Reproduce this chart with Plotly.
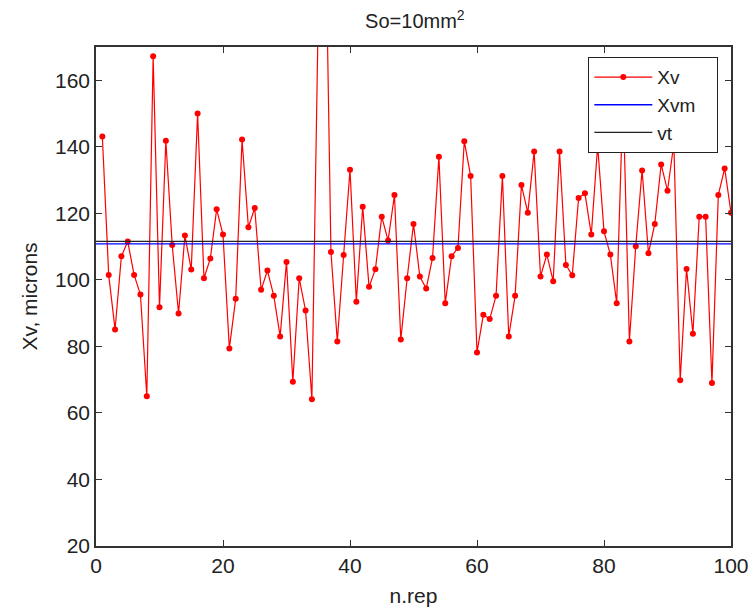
import plotly.graph_objects as go

rep = list(range(1, 101))
xv = [143.1, 101.5, 85.1, 107.1, 111.5, 101.5, 95.6, 65.0, 167.2, 91.8,
      141.8, 110.5, 89.9, 113.3, 103.1, 150.0, 100.5, 106.4, 121.2, 113.6,
      79.4, 94.3, 142.2, 115.8, 121.6, 97.0, 102.8, 95.2, 83.0, 105.4,
      69.4, 100.5, 90.8, 64.1, 180.0, 225.0, 108.4, 81.5, 107.5, 133.1,
      93.4, 122.0, 97.9, 103.2, 119.0, 111.8, 125.5, 82.1, 100.5, 116.8,
      101.0, 97.4, 106.6, 137.0, 93.0, 107.1, 109.6, 141.7, 131.2, 78.2,
      89.5, 88.2, 95.2, 131.2, 83.0, 95.2, 128.5, 120.2, 138.6, 101.0,
      107.6, 99.6, 138.6, 104.5, 101.4, 124.6, 126.0, 113.6, 140.4, 114.6,
      107.6, 93.0, 155.0, 81.5, 110.1, 132.9, 108.0, 116.8, 134.7, 126.8,
      141.0, 69.8, 103.3, 83.8, 119.0, 119.0, 69.0, 125.5, 133.5, 120.2]
line_x = [0, 100]
xvm = [110.8, 110.8]
vt = [111.6, 111.6]

x_ticks = [0, 20, 40, 60, 80, 100]
y_ticks = [20, 40, 60, 80, 100, 120, 140, 160]

FONT = "Liberation Sans, Arial, sans-serif"
PAD = "&nbsp;&nbsp;&nbsp;"

fig = go.Figure()
fig.add_trace(go.Scatter(x=rep, y=xv, name="Xv" + PAD, mode="lines+markers",
                         line=dict(color="#ff0000", width=1.2),
                         marker=dict(color="#ff0000", size=6, symbol="circle")))
fig.add_trace(go.Scatter(x=line_x, y=xvm, name="Xvm" + PAD, mode="lines",
                         line=dict(color="#0000ff", width=1.3)))
fig.add_trace(go.Scatter(x=line_x, y=vt, name="vt" + PAD, mode="lines",
                         line=dict(color="#222222", width=1.3)))

axis_common = dict(showgrid=False, zeroline=False, showline=True, mirror="ticks",
                   linecolor="#333333", linewidth=1.5, ticks="inside", ticklen=6,
                   tickcolor="#333333", tickwidth=1.2, automargin=False,
                   tickfont=dict(family=FONT, size=21, color="#222222"))

fig.update_layout(
    width=755, height=607,
    margin=dict(l=96, r=24, t=47, b=61, autoexpand=False),
    paper_bgcolor="white", plot_bgcolor="white",
    title=dict(text="So=10mm<sup>2</sup>", x=0.5495, xanchor="center",
               y=0.965, yanchor="middle",
               font=dict(family=FONT, size=20, color="#222222")),
    xaxis=dict(range=[0, 100], tickvals=x_ticks,
               title=dict(text="n.rep", standoff=12,
                          font=dict(family=FONT, size=21, color="#222222")),
               **axis_common),
    yaxis=dict(range=[20, 170], tickvals=y_ticks,
               title=dict(text="Xv, microns", standoff=12,
                          font=dict(family=FONT, size=21, color="#222222")),
               **axis_common),
    legend=dict(x=0.775, y=0.98, xanchor="left", yanchor="top",
                bgcolor="white", bordercolor="#222222", borderwidth=1.2,
                font=dict(family=FONT, size=19, color="#222222"),
                itemwidth=58, tracegroupgap=0),
    showlegend=True,
)

fig.write_html("out.html")
